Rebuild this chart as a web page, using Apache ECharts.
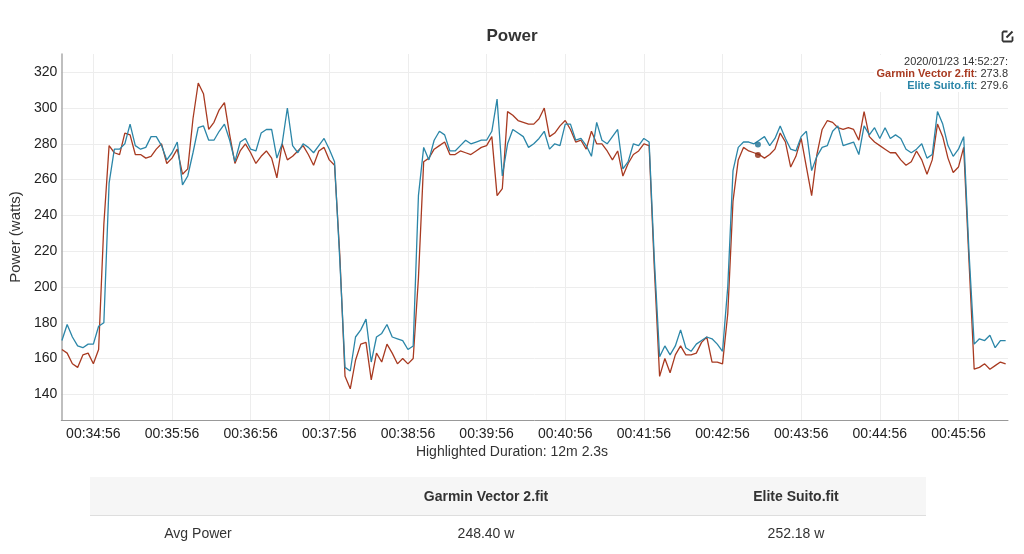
<!DOCTYPE html>
<html>
<head>
<meta charset="utf-8">
<title>Power</title>
<script src="https://cdn.jsdelivr.net/npm/echarts@6/dist/echarts.min.js"></script>
<style>
html, body { margin: 0; padding: 0; background: #fff; }
#chart { width: 1024px; height: 554px; }
</style>
</head>
<body>
<div id="chart"></div>
<script>
// samples every 4 s, first one at 00:34:32
var startTime = '00:34:32'
var stepSec = 4

var garmin = [
    165, 163, 157, 155, 162, 163, 157, 165, 235, 279, 275, 274, 286, 285, 274, 274,
    272, 273, 277, 280, 269, 272, 277, 263, 266, 294, 314, 308, 288, 292, 299, 303,
    285, 269, 276, 280, 275, 269, 273, 276, 272, 261, 280, 271, 273, 276, 279, 274,
    268, 276, 278, 271, 268, 218, 150, 143, 159, 168, 169, 148, 163, 158, 168, 163,
    157, 160, 157, 160, 205, 270, 272, 277, 279, 281, 274, 274, 276, 275, 274, 276,
    278, 279, 284, 251, 255, 298, 296, 293, 292, 291, 291, 294, 300, 284, 286, 290,
    293, 288, 281, 282, 277, 287, 280, 280, 276, 271, 276, 262, 269, 274, 276, 280,
    279, 210, 150, 160, 152, 162, 167, 162, 162, 163, 169, 172, 158, 158, 157, 185,
    248, 271, 278, 276, 275, 274, 272, 274, 277, 286, 281, 267, 273, 283, 267, 251,
    274, 288, 293, 292, 289, 288, 289, 288, 282, 298, 284, 281, 279, 277, 275, 275,
    271, 268, 270, 276, 271, 263, 271, 291, 284, 272, 264, 267, 278, 215, 154, 155,
    157, 154, 156, 158, 157
]

var suito = [
    170, 179, 172, 167, 166, 168, 168, 178, 180, 258, 277, 277, 280, 291, 279, 277,
    278, 284, 284, 279, 271, 275, 281, 257, 262, 275, 289, 290, 282, 282, 287, 291,
    282, 270, 281, 283, 277, 276, 286, 288, 288, 272, 280, 300, 279, 275, 280, 278,
    275, 279, 283, 277, 270, 215, 155, 153, 172, 176, 182, 158, 172, 174, 179, 172,
    171, 170, 165, 167, 251, 278, 271, 282, 287, 285, 276, 276, 279, 282, 280, 281,
    282, 282, 287, 305, 262, 280, 288, 286, 284, 278, 280, 283, 287, 277, 280, 279,
    291, 291, 282, 283, 279, 273, 292, 282, 280, 284, 288, 266, 270, 280, 279, 283,
    281, 215, 161, 167, 162, 167, 176, 166, 164, 168, 170, 172, 171, 168, 164, 200,
    265, 278, 281, 281, 280, 282, 284, 279, 283, 290, 283, 277, 276, 284, 287, 265,
    273, 278, 279, 287, 290, 279, 280, 281, 274, 290, 285, 289, 283, 289, 283, 285,
    283, 277, 275, 277, 280, 272, 274, 298, 291, 279, 273, 277, 284, 220, 168, 171,
    170, 173, 166, 170, 170
]

var xTicks = ['00:34:56', '00:35:56', '00:36:56', '00:37:56', '00:38:56', '00:39:56',
    '00:40:56', '00:41:56', '00:42:56', '00:43:56', '00:44:56', '00:45:56']
var yTicks = [140, 160, 180, 200, 220, 240, 260, 280, 300, 320]

// hovered point shown in the corner box
var cursorTime = '00:43:23'
var cursorClock = '2020/01/23 14:52:27:'
var cursorGarmin = 273.8
var cursorSuito = 279.6

var tableCols = ['Garmin Vector 2.fit', 'Elite Suito.fit']
var avgPower = ['248.40 w', '252.18 w']

var redColor = '#a83a21'
var blueColor = '#2b86a8'
var fontFam = '"Liberation Sans", Arial, sans-serif'

function toSec(s) {
    var p = s.split(':')
    return parseInt(p[0]) * 3600 + parseInt(p[1]) * 60 + parseInt(p[2])
}

function toClock(sec) {
    var h = Math.floor(sec / 3600)
    var m = Math.floor((sec % 3600) / 60)
    var s = Math.round(sec % 60)
    var pad = function(n) { return (n < 10 ? '0' : '') + n }
    return pad(h) + ':' + pad(m) + ':' + pad(s)
}

var t0 = toSec(startTime)
var garminData = []
var suitoData = []
for (var i = 0; i < garmin.length; i++) {
    garminData.push([t0 + i * stepSec, garmin[i]])
    suitoData.push([t0 + i * stepSec, suito[i]])
}
var xTickSec = xTicks.map(toSec)
var cur = toSec(cursorTime)

var myChart = echarts.init(document.getElementById('chart'), null, { renderer: 'canvas' })

var option = {
    animation: false,
    textStyle: { fontFamily: fontFam },
    title: {
        text: 'Power',
        left: 'center',
        top: 23,
        textStyle: { fontSize: 17, fontWeight: 'bold', color: '#333', fontFamily: fontFam }
    },
    grid: { left: 61, right: 16, top: 54, bottom: 134 },
    xAxis: {
        type: 'value',
        min: 2071.5,
        max: 2793.8,
        axisLine: { show: true, lineStyle: { color: '#999', width: 1 } },
        axisTick: { show: false, customValues: xTickSec },
        axisLabel: {
            customValues: xTickSec,
            formatter: function(v) { return toClock(v) },
            color: '#222', fontSize: 14, margin: 7, fontFamily: fontFam
        },
        splitLine: { show: true, lineStyle: { color: '#ededed', width: 1 } }
    },
    yAxis: {
        type: 'value',
        min: 125.6,
        max: 330.2,
        name: 'Power (watts)',
        nameLocation: 'middle',
        nameGap: 36,
        nameTextStyle: { fontSize: 15, color: '#333', fontFamily: fontFam },
        axisLine: { show: true, lineStyle: { color: '#aaa', width: 1.5 } },
        axisTick: { show: false, customValues: yTicks },
        axisLabel: { customValues: yTicks, color: '#222', fontSize: 14, margin: 4, fontFamily: fontFam },
        splitLine: { show: true, lineStyle: { color: '#ededed', width: 1 } }
    },
    series: [{
        name: tableCols[0],
        type: 'line',
        data: garminData,
        showSymbol: false,
        color: redColor,
        lineStyle: { width: 1.3, color: redColor }
    }, {
        name: tableCols[1],
        type: 'line',
        data: suitoData,
        showSymbol: false,
        color: blueColor,
        lineStyle: { width: 1.3, color: blueColor }
    }, {
        type: 'scatter',
        symbolSize: 6,
        data: [
            { value: [cur, cursorGarmin], itemStyle: { color: '#8e2a12' } },
            { value: [cur, cursorSuito], itemStyle: { color: '#1b6f92' } }
        ],
        z: 5
    }],
    graphic: [
        // edit icon
        {
            type: 'group', left: 1000, top: 29,
            children: [
                { type: 'polyline', shape: { points: [[6, 1], [2, 1], [1, 2], [1, 10], [2, 11], [10, 11], [11, 10], [11, 6]] },
                    style: { stroke: '#333', lineWidth: 1.8, fill: null } },
                { type: 'line', shape: { x1: 5, y1: 7, x2: 11, y2: 1 }, style: { stroke: '#333', lineWidth: 2 } }
            ]
        },
        // hover box
        { type: 'rect', z: 100, shape: { x: 874, y: 55, width: 136, height: 37 }, style: { fill: '#fff' } },
        {
            type: 'text', right: 16, top: 56, z: 101,
            style: { text: cursorClock, fill: '#333', font: '11px ' + fontFam }
        },
        {
            type: 'text', right: 16, top: 68, z: 101,
            style: {
                text: '{a|' + tableCols[0] + '}{b|: ' + cursorGarmin.toFixed(1) + '}',
                rich: {
                    a: { fill: redColor, fontWeight: 'bold', fontSize: 11, fontFamily: fontFam },
                    b: { fill: '#333', fontSize: 11, fontFamily: fontFam }
                }
            }
        },
        {
            type: 'text', right: 16, top: 80, z: 101,
            style: {
                text: '{a|' + tableCols[1] + '}{b|: ' + cursorSuito.toFixed(1) + '}',
                rich: {
                    a: { fill: blueColor, fontWeight: 'bold', fontSize: 11, fontFamily: fontFam },
                    b: { fill: '#333', fontSize: 11, fontFamily: fontFam }
                }
            }
        },
        {
            type: 'text', left: 'center', top: 445,
            style: { text: 'Highlighted Duration: 12m 2.3s', fill: '#333', font: '14px ' + fontFam }
        },
        // summary table
        { type: 'rect', shape: { x: 90, y: 477, width: 836, height: 38 }, style: { fill: '#f6f6f6' } },
        { type: 'line', shape: { x1: 90, y1: 515.5, x2: 926, y2: 515.5 }, style: { stroke: '#dedede', lineWidth: 1 } },
        { type: 'text', x: 486, y: 497, style: { text: tableCols[0], fill: '#333', font: 'bold 14px ' + fontFam, align: 'center', verticalAlign: 'middle' } },
        { type: 'text', x: 796, y: 497, style: { text: tableCols[1], fill: '#333', font: 'bold 14px ' + fontFam, align: 'center', verticalAlign: 'middle' } },
        { type: 'text', x: 198, y: 534, style: { text: 'Avg Power', fill: '#333', font: '14px ' + fontFam, align: 'center', verticalAlign: 'middle' } },
        { type: 'text', x: 486, y: 534, style: { text: avgPower[0], fill: '#333', font: '14px ' + fontFam, align: 'center', verticalAlign: 'middle' } },
        { type: 'text', x: 796, y: 534, style: { text: avgPower[1], fill: '#333', font: '14px ' + fontFam, align: 'center', verticalAlign: 'middle' } }
    ]
}

myChart.setOption(option)
</script>
</body>
</html>
